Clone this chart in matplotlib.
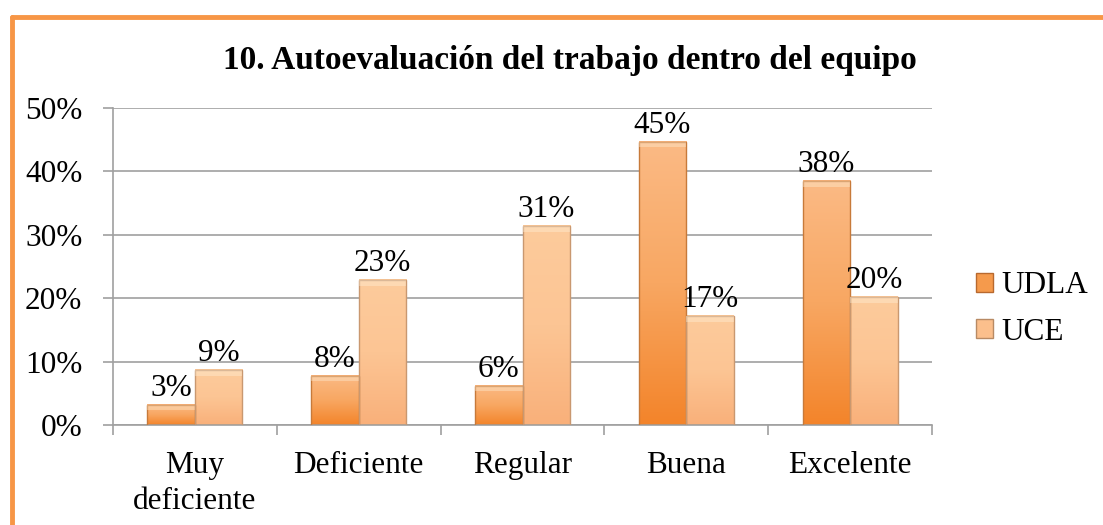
import numpy as np
import matplotlib
matplotlib.use("Agg")
import matplotlib.pyplot as plt
from matplotlib.colors import LinearSegmentedColormap
from matplotlib.patches import Rectangle
from matplotlib.lines import Line2D

categories = ["Muy\ndeficiente", "Deficiente", "Regular", "Buena", "Excelente"]
series_names = ["UDLA", "UCE"]
udla = [3.2, 7.8, 6.2, 44.7, 38.5]
uce = [8.7, 22.9, 31.4, 17.2, 20.2]
yticks = [0, 10, 20, 30, 40, 50]
title = "10. Autoevaluación del trabajo dentro del equipo"

plt.rcParams['font.family'] = ['Liberation Serif', 'DejaVu Serif']

fig = plt.figure(figsize=(11.03, 5.25), dpi=100)
ax = fig.add_axes([113/1103, 1-425/525, (932-113)/1103, (425-108)/525])

x = np.arange(len(categories))
w = 0.29
grid_c = "#a0a0a0"
fs = 22.5

ax.set_ylim(0, 50)
ax.set_xlim(-0.5, len(categories)-0.5)
ax.set_yticks(yticks)
ax.set_yticklabels([f"{v}%" for v in yticks], fontsize=fs)
ax.yaxis.grid(True, color=grid_c, linewidth=1.2)
ax.set_axisbelow(True)
for s in ["top", "right"]:
    ax.spines[s].set_visible(False)
for s in ["left", "bottom"]:
    ax.spines[s].set_color(grid_c)
    ax.spines[s].set_linewidth(1.2)
ax.tick_params(axis='y', length=7, width=1.2, color=grid_c, pad=15)
ax.set_xticks(np.arange(len(categories)+1)-0.5, minor=False)
ax.set_xticklabels([])
ax.tick_params(axis='x', length=7, width=1.2, color=grid_c, direction='out')
ax.set_xticks(x, minor=True)
ax.set_xticklabels(categories, minor=True, fontsize=fs, linespacing=1.3, va='top')
ax.tick_params(axis='x', which='minor', length=0, pad=19)

cmap_udla = LinearSegmentedColormap.from_list("u", ["#f3842a", "#f8a762", "#fbba85"])
cmap_uce = LinearSegmentedColormap.from_list("c", ["#f9b07a", "#fcc594", "#fdcb9c"])

grad = np.linspace(0, 1, 256).reshape(-1, 1)

def draw(vals, offset, cmap, edge):
    bars = ax.bar(x + offset, vals, w, color="none", edgecolor="none", zorder=2)
    for b, v in zip(bars, vals):
        x0, y0 = b.get_x(), b.get_y()
        bw, bh = b.get_width(), b.get_height()
        ax.imshow(grad, cmap=cmap, aspect='auto', origin='lower',
                  extent=(x0, x0+bw, y0, y0+bh), zorder=2, interpolation='bicubic')
        ax.add_patch(Rectangle((x0, y0), bw, bh, fill=False, edgecolor=edge, linewidth=1.0, zorder=3))
        bev = min(0.9, bh*0.3)
        ax.add_patch(Rectangle((x0, y0+bh-bev), bw, bev, facecolor="#fff6e0", alpha=0.35, edgecolor="none", zorder=3))
        ax.text(x0+bw/2, y0+bh+0.3, f"{round(v)}%", ha='center', va='bottom', fontsize=fs, zorder=4)
    return bars

draw(udla, -w/2, cmap_udla, "#c77a3a")
draw(uce, w/2, cmap_uce, "#c99870")
ax.set_xlim(-0.5, len(categories)-0.5)
ax.set_ylim(0, 50)

fig.text(0.517, 1-60/525, title, ha='center', va='center', fontsize=24, fontweight='bold')

# legend
handles = [Rectangle((0, 0), 1, 1, facecolor="#f59a4c", edgecolor="#b8692e"),
           Rectangle((0, 0), 1, 1, facecolor="#fbbf8c", edgecolor="#b88a64")]
fig.legend(handles, series_names, loc='center left', bbox_to_anchor=(948/1103, 1-309/525),
           frameon=False, fontsize=fs, handlelength=0.55, handleheight=0.55,
           handletextpad=0.25, labelspacing=0.55)

# orange frame
oc = "#f79646"
fig.add_artist(Line2D([12/1103, 1.0], [1-17/525, 1-17/525], color=oc, linewidth=3.5,
                      transform=fig.transFigure, solid_capstyle='round'))
fig.add_artist(Line2D([12/1103, 12/1103], [1-17/525, 0.0], color=oc, linewidth=3.5,
                      transform=fig.transFigure, solid_capstyle='round'))

fig.savefig("out.png", dpi=100)
